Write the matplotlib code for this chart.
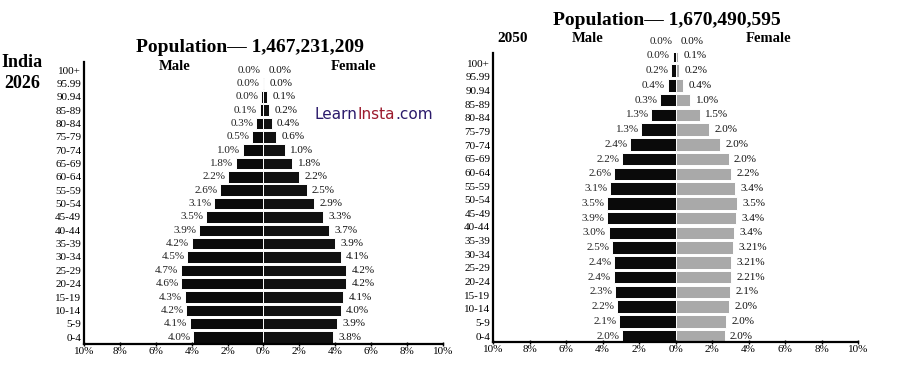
import numpy as np
import matplotlib
matplotlib.use("Agg")
import matplotlib.pyplot as plt

plt.rcParams['font.family'] = ['Liberation Serif', 'DejaVu Serif']

# age groups, bottom to top (as printed)
ages = ['0-4', '5-9', '10-14', '15-19', '20-24', '25-29', '30-34', '35-39', '40-44',
        '45-49', '50-54', '55-59', '60-64', '65-69', '70-74', '75-79', '80-84',
        '85-89', '90.94', '95.99', '100+']

# India 2026 - bar lengths (%)
male_2026 = [3.9, 4.1, 4.3, 4.4, 4.57, 4.6, 4.24, 4.0, 3.6, 3.2, 2.76, 2.4, 1.96,
             1.55, 1.13, 0.63, 0.39, 0.2, 0.13, 0.05, 0.0]
female_2026 = [3.9, 4.1, 4.3, 4.45, 4.6, 4.6, 4.3, 4.0, 3.67, 3.3, 2.83, 2.4, 2.0,
               1.6, 1.2, 0.72, 0.45, 0.3, 0.2, 0.05, 0.0]
male_2026_lbl = ['4.0%', '4.1%', '4.2%', '4.3%', '4.6%', '4.7%', '4.5%', '4.2%', '3.9%',
                 '3.5%', '3.1%', '2.6%', '2.2%', '1.8%', '1.0%', '0.5%', '0.3%', '0.1%',
                 '0.0%', '0.0%', '0.0%']
female_2026_lbl = ['3.8%', '3.9%', '4.0%', '4.1%', '4.2%', '4.2%', '4.1%', '3.9%', '3.7%',
                   '3.3%', '2.9%', '2.5%', '2.2%', '1.8%', '1.0%', '0.6%', '0.4%', '0.2%',
                   '0.1%', '0.0%', '0.0%']

# 2050 - bar lengths (%), top row has no bar
male_2050 = [2.93, 3.09, 3.2, 3.3, 3.4, 3.35, 3.48, 3.67, 3.76, 3.76, 3.57, 3.35, 2.93,
             2.5, 1.87, 1.32, 0.83, 0.43, 0.24, 0.15, 0.0]
female_2050 = [2.68, 2.78, 2.94, 3.0, 3.02, 3.06, 3.15, 3.2, 3.33, 3.39, 3.26, 3.04, 2.9,
               2.43, 1.82, 1.33, 0.8, 0.41, 0.2, 0.13, 0.0]
male_2050_lbl = ['2.0%', '2.1%', '2.2%', '2.3%', '2.4%', '2.4%', '2.5%', '3.0%', '3.9%',
                 '3.5%', '3.1%', '2.6%', '2.2%', '2.4%', '1.3%', '1.3%', '0.3%', '0.4%',
                 '0.2%', '0.0%', '0.0%']
female_2050_lbl = ['2.0%', '2.0%', '2.0%', '2.1%', '2.21%', '3.21%', '3.21%', '3.4%', '3.4%',
                   '3.5%', '3.4%', '2.2%', '2.0%', '2.0%', '2.0%', '1.5%', '1.0%', '0.4%',
                   '0.2%', '0.1%', '0.0%']

xticks = [-10, -8, -6, -4, -2, 0, 2, 4, 6, 8, 10]

fig = plt.figure(figsize=(9.1, 3.65), dpi=100)
ax1 = fig.add_axes([0.0923, 0.0575, 0.3945, 0.7725])
ax2 = fig.add_axes([0.5418, 0.063, 0.4012, 0.792])


def pyramid(ax, male, female, mlbl, flbl, fcolor, ylim, tickpos):
    y = np.arange(len(male))
    m = np.array(male)
    f = np.array(female)
    ax.barh(y, -m, height=0.86, color='#0a0a0a', edgecolor='white', linewidth=0.7)
    ax.barh(y, f, height=0.86, color=fcolor, edgecolor='white', linewidth=0.7)
    for yi, mv, fv, ml, fl in zip(y, m, f, mlbl, flbl):
        ax.text(-mv - 0.15, yi, ml, ha='right', va='center', fontsize=8,
                color='#222222', clip_on=False)
        ax.text(fv + 0.3, yi, fl, ha='left', va='center', fontsize=8,
                color='#111111', clip_on=False)
    ax.set_xlim(-10, 10)
    ax.set_ylim(*ylim)
    ax.set_xticks(xticks)
    ax.set_xticklabels([f'{abs(t)}%' for t in xticks], fontsize=8)
    ax.set_yticks(tickpos)
    ax.set_yticklabels(ages, fontsize=8)
    ax.tick_params(axis='y', length=0, pad=2)
    ax.tick_params(axis='x', length=3, width=1, direction='inout', pad=1)
    for s in ['top', 'right']:
        ax.spines[s].set_visible(False)
    ax.spines['left'].set_linewidth(1.6)
    ax.spines['bottom'].set_linewidth(1.6)


pyramid(ax1, male_2026, female_2026, male_2026_lbl, female_2026_lbl, '#111111',
        (-0.52, 20.6), np.arange(len(ages)))
pyramid(ax2, male_2050, female_2050, male_2050_lbl, female_2050_lbl, '#a9a9a9',
        (-0.4, 19.2), np.linspace(0, 18.5, len(ages)))

# titles and headings
fig.text(0.275, 0.87, 'Population\u2014 1,467,231,209', ha='center', va='center',
         fontsize=14, fontweight='bold')
fig.text(0.024, 0.8, 'India\n2026', ha='center', va='center', fontsize=13,
         fontweight='bold', linespacing=1.25)
fig.text(0.192, 0.817, 'Male', ha='center', va='center', fontsize=10.5, fontweight='bold')
fig.text(0.388, 0.817, 'Female', ha='center', va='center', fontsize=10.5, fontweight='bold')

fig.text(0.733, 0.945, 'Population\u2014 1,670,490,595', ha='center', va='center',
         fontsize=14, fontweight='bold')
fig.text(0.563, 0.895, '2050', ha='center', va='center', fontsize=11, fontweight='bold')
fig.text(0.646, 0.895, 'Male', ha='center', va='center', fontsize=10.5, fontweight='bold')
fig.text(0.845, 0.895, 'Female', ha='center', va='center', fontsize=10.5, fontweight='bold')

# watermark
wm_y = 0.685
t1 = fig.text(0.346, wm_y, 'Learn', ha='left', va='center', fontsize=11,
              color='#2b1a6b', family='DejaVu Sans')
fig.canvas.draw()
r = fig.canvas.get_renderer()
bb = t1.get_window_extent(r)
t2 = fig.text(bb.x1 / fig.bbox.width, wm_y, 'Insta', ha='left', va='center', fontsize=11,
              color='#9c1b2e', family='DejaVu Sans')
bb2 = t2.get_window_extent(r)
fig.text(bb2.x1 / fig.bbox.width, wm_y, '.com', ha='left', va='center', fontsize=11,
         color='#2b1a6b', family='DejaVu Sans')

fig.savefig('out.png', dpi=100, facecolor='white')
